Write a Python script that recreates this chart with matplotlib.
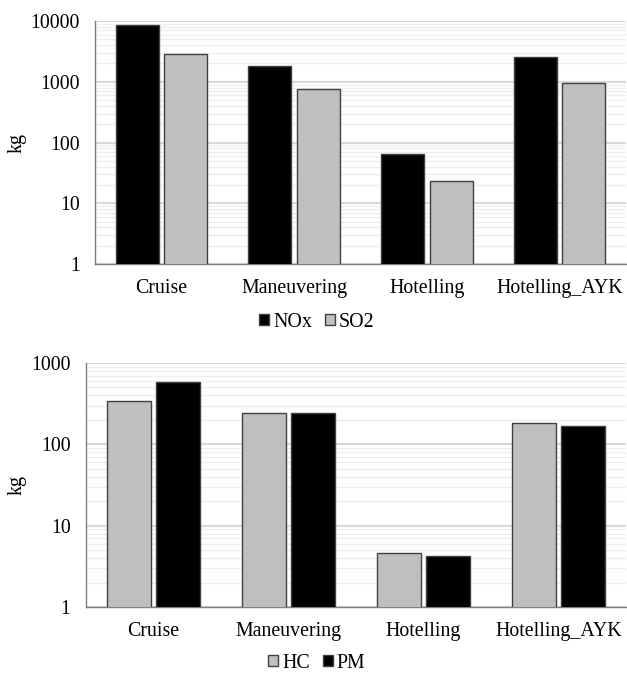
import matplotlib
matplotlib.use('Agg')
from matplotlib import pyplot as plt
from matplotlib.patches import Patch
from matplotlib.transforms import blended_transform_factory
import numpy as np

plt.rcParams['font.family'] = ['Liberation Serif', 'DejaVu Serif']

categories = ['Cruise', 'Maneuvering', 'Hotelling', 'Hotelling_AYK']
nox = [8500, 1840, 65.5, 2550]
so2 = [2900, 770, 23.2, 940]
hc = [345, 245, 4.6, 183]
pm = [590, 240, 4.25, 169]

BLACK = '#000000'
GREY = '#bfbfbf'
EDGE = '#404040'
FS = 14.3


def draw_panel(fig, ax, first, second, colors, ymax):
    x = np.arange(len(categories))
    w = 0.325
    gap = 0.02
    ax.bar(x - w / 2 - gap, first, w, color=colors[0], edgecolor=EDGE,
           linewidth=1.0, zorder=3)
    ax.bar(x + w / 2 + gap, second, w, color=colors[1], edgecolor=EDGE,
           linewidth=1.0, zorder=3)
    ax.set_yscale('log')
    ax.set_ylim(1, ymax)
    ax.set_xlim(-0.5, len(categories) - 0.5)
    ax.set_xticks(x)
    ax.set_xticklabels(categories, fontsize=FS)
    ticks = [10 ** i for i in range(int(np.log10(ymax)) + 1)]
    ax.set_yticks(ticks)
    ax.set_yticklabels([str(t) for t in ticks], fontsize=FS)
    ax.tick_params(axis='both', length=0, pad=11)
    ax.tick_params(axis='y', which='minor', length=0)
    ax.grid(axis='y', which='major', color='#d9d9d9', linewidth=1.5, zorder=0)
    ax.grid(axis='y', which='minor', color='#eeeeee', linewidth=1.0, zorder=0)
    for s in ['top', 'right']:
        ax.spines[s].set_visible(False)
    for s in ['left', 'bottom']:
        ax.spines[s].set_color('#7f7f7f')
        ax.spines[s].set_linewidth(1.0)
    ax.set_ylabel('kg', fontsize=FS, va='center')
    trans = blended_transform_factory(fig.transFigure, ax.transAxes)
    ax.yaxis.set_label_coords(17 / 627, 0.5, transform=trans)


def add_legend(fig, first, second, colors, y):
    handles = [Patch(facecolor=colors[0], edgecolor=EDGE, label=first),
               Patch(facecolor=colors[1], edgecolor=EDGE, label=second)]
    fig.legend(handles=handles, loc='center', bbox_to_anchor=(0.505, y),
               ncol=2, frameon=False, fontsize=FS, handlelength=0.5,
               handleheight=0.5, handletextpad=0.2, columnspacing=0.65,
               borderaxespad=0, borderpad=0)


fig = plt.figure(figsize=(6.27, 6.74), dpi=100)

ax1 = fig.add_axes([0.1515, 0.6083, 0.847, 0.3605])
draw_panel(fig, ax1, nox, so2, (BLACK, GREY), 10000)
add_legend(fig, 'NOx', 'SO2', (BLACK, GREY), 0.522)

ax2 = fig.add_axes([0.137, 0.0994, 0.861, 0.362])
draw_panel(fig, ax2, hc, pm, (GREY, BLACK), 1000)
add_legend(fig, 'HC', 'PM', (GREY, BLACK), 0.016)

fig.savefig('out.png', dpi=100)
